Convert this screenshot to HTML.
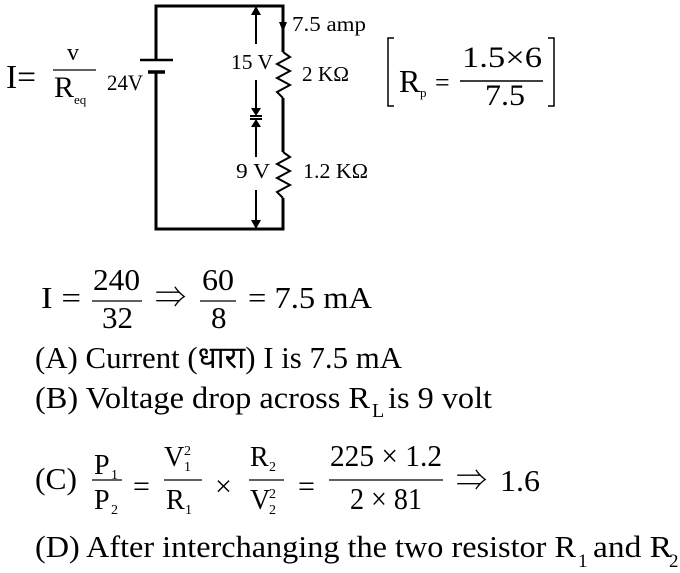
<!DOCTYPE html>
<html><head><meta charset="utf-8"><style>
html,body{margin:0;padding:0;background:#fff;width:680px;height:573px;overflow:hidden}
svg{display:block}
.s{font-family:"Liberation Serif","Noto Serif CJK SC",serif;fill:#000}
</style></head><body>
<svg width="680" height="573" viewBox="0 0 680 573">
<g stroke="#000" stroke-width="3" fill="none">
<polyline points="156,60 156,6 283,6 283,52"/>
<polyline points="156,72 156,229 283,229 283,198"/>
<line x1="283" y1="98" x2="283" y2="152"/>
<polyline stroke-width="2" points="283,52 290,57 277,64 290,71 277,78 290,85 277,92 283,98"/>
<polyline stroke-width="2" points="283,152 290,157 277,164 290,171 277,178 290,185 277,192 283,198"/>
<line x1="140" y1="60" x2="173" y2="60" stroke-width="2.5"/>
<line x1="148" y1="72" x2="165" y2="72" stroke-width="3.5"/>
<g stroke-width="2">
<line x1="256" y1="12" x2="256" y2="44"/>
<line x1="256" y1="80" x2="256" y2="110"/>
<line x1="256" y1="124" x2="256" y2="157"/>
<line x1="256" y1="190" x2="256" y2="222"/>
<line x1="250" y1="116" x2="262" y2="116"/>
<line x1="250" y1="119" x2="262" y2="119"/>
</g>
</g>
<g fill="#000">
<polygon points="251,15 261,15 256,6"/>
<polygon points="251,108 261,108 256,116"/>
<polygon points="251,127 261,127 256,119"/>
<polygon points="251,220 261,220 256,229"/>
<polygon points="279,22 287,22 283,32"/>
</g>
<line x1="283" y1="12" x2="283" y2="24" stroke="#000" stroke-width="1.5"/>
<g class="s" font-size="21">
<text x="292" y="31" textLength="74" lengthAdjust="spacingAndGlyphs">7.5 amp</text>
<text x="231" y="69" textLength="42" lengthAdjust="spacingAndGlyphs">15 V</text>
<text x="302" y="81" textLength="47" lengthAdjust="spacingAndGlyphs">2 KΩ</text>
<text x="236" y="178" textLength="34" lengthAdjust="spacingAndGlyphs">9 V</text>
<text x="303" y="178" textLength="65" lengthAdjust="spacingAndGlyphs">1.2 KΩ</text>
<text x="107" y="90" font-size="22" textLength="36" lengthAdjust="spacingAndGlyphs">24V</text>
</g>
<g class="s">
<text x="6" y="88" font-size="34" textLength="30" lengthAdjust="spacingAndGlyphs">I=</text>
<text x="67" y="60" font-size="24">v</text>
<line x1="53" y1="70" x2="96" y2="70" stroke="#000" stroke-width="1.3"/>
<text x="54" y="97" font-size="30">R</text>
<text x="74" y="104" font-size="13">eq</text>
</g>
<g stroke="#000" stroke-width="1.5" fill="none">
<polyline points="394,38 388,38 388,106 394,106"/>
<polyline points="548,38 554,38 554,106 548,106"/>
<line x1="460" y1="81" x2="543" y2="81"/>
</g>
<g class="s">
<text x="399" y="92" font-size="32">R</text>
<text x="420" y="97" font-size="13">p</text>
<text x="435" y="91" font-size="26">=</text>
<text x="462" y="67" font-size="30" textLength="80" lengthAdjust="spacingAndGlyphs">1.5×6</text>
<text x="485" y="105" font-size="30" textLength="40" lengthAdjust="spacingAndGlyphs">7.5</text>
</g>
<g class="s" font-size="31">
<text x="41" y="308" textLength="40" lengthAdjust="spacingAndGlyphs">I =</text>
<text x="93" y="290" textLength="47" lengthAdjust="spacingAndGlyphs">240</text>
<line x1="92" y1="301" x2="142" y2="301" stroke="#000" stroke-width="1.3"/>
<text x="102" y="328" textLength="31" lengthAdjust="spacingAndGlyphs">32</text>
<text x="155" y="308">⇒</text>
<text x="202" y="290" textLength="32" lengthAdjust="spacingAndGlyphs">60</text>
<line x1="200" y1="301" x2="236" y2="301" stroke="#000" stroke-width="1.3"/>
<text x="211" y="328">8</text>
<text x="248" y="308" textLength="124" lengthAdjust="spacingAndGlyphs">= 7.5 mA</text>
<text x="35" y="368" textLength="367" lengthAdjust="spacingAndGlyphs">(A) Current (धारा) I is 7.5 mA</text>
<text x="35" y="408" textLength="335" lengthAdjust="spacingAndGlyphs">(B) Voltage drop across R</text>
<text x="372" y="417" font-size="20">L</text>
<text x="388" y="408" textLength="104" lengthAdjust="spacingAndGlyphs">is 9 volt</text>
<text x="35" y="489" textLength="42" lengthAdjust="spacingAndGlyphs">(C)</text>
<text x="94" y="474" font-size="28">P</text><text x="111" y="479" font-size="14">1</text>
<line x1="92" y1="480" x2="122" y2="480" stroke="#000" stroke-width="1.3"/>
<text x="94" y="509" font-size="28">P</text><text x="111" y="514" font-size="14">2</text>
<text x="133" y="496" font-size="30">=</text>
<text x="164" y="466" font-size="28">V</text><text x="184" y="471" font-size="14">1</text><text x="184" y="455" font-size="14">2</text>
<line x1="164" y1="480" x2="202" y2="480" stroke="#000" stroke-width="1.3"/>
<text x="166" y="509" font-size="28">R</text><text x="185" y="514" font-size="14">1</text>
<text x="215" y="496" font-size="30">×</text>
<text x="250" y="466" font-size="28">R</text><text x="269" y="471" font-size="14">2</text>
<line x1="249" y1="480" x2="284" y2="480" stroke="#000" stroke-width="1.3"/>
<text x="250" y="509" font-size="28">V</text><text x="269" y="514" font-size="14">2</text><text x="269" y="498" font-size="14">2</text>
<text x="298" y="496" font-size="30">=</text>
<text x="330" y="466" textLength="112" lengthAdjust="spacingAndGlyphs">225 × 1.2</text>
<line x1="329" y1="480" x2="443" y2="480" stroke="#000" stroke-width="1.3"/>
<text x="350" y="509" textLength="72" lengthAdjust="spacingAndGlyphs">2 × 81</text>
<text x="456" y="491">⇒</text>
<text x="500" y="491" textLength="40" lengthAdjust="spacingAndGlyphs">1.6</text>
<text x="35" y="557" textLength="541" lengthAdjust="spacingAndGlyphs">(D) After interchanging the two resistor R</text>
<text x="578" y="567" font-size="19">1</text>
<text x="593" y="557" textLength="79" lengthAdjust="spacingAndGlyphs">and R</text>
<text x="669" y="567" font-size="19">2</text>
</g>
</svg>
</body></html>
